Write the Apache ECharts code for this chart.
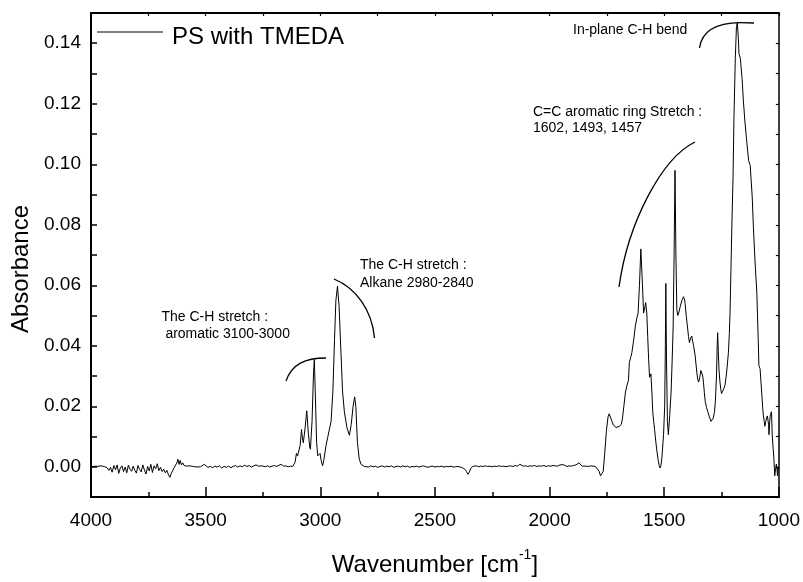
<!DOCTYPE html>
<html>
<head>
<meta charset="utf-8">
<script src="https://cdn.jsdelivr.net/npm/echarts@6/dist/echarts.min.js"></script>
<style>
html,body{margin:0;padding:0;background:#fff;}
#chart{width:803px;height:582px;}
</style>
</head>
<body>
<div id="chart"></div>
<script>
// ---- data: [wavenumber (cm-1), absorbance] ----
const seriesName = 'PS with TMEDA';

const baselineHigh = [
[4000,0.0000],[3990,0.0001],[3980,0.0002],[3970,0.0001],[3960,0.0003],[3950,0.0002],[3940,0.0000],
[3930,-0.0003],[3922,-0.0012],[3915,-0.0002],[3908,-0.0018],[3900,0.0004],[3893,-0.0010],[3886,0.0006],
[3879,-0.0022],[3872,-0.0004],[3865,0.0003],[3858,-0.0016],[3851,-0.0001],[3844,-0.0020],[3837,0.0005],
[3830,-0.0008],[3823,-0.0015],[3816,0.0002],[3809,-0.0012],[3802,-0.0021],[3795,0.0004],[3788,-0.0009],
[3781,-0.0017],[3774,0.0006],[3767,-0.0011],[3760,-0.0024],[3753,0.0001],[3746,-0.0014],[3739,0.0008],
[3732,-0.0019],[3725,0.0003],[3718,-0.0007],[3711,0.0010],[3704,-0.0013],[3697,-0.0002],[3690,-0.0016],
[3683,-0.0008],[3676,-0.0020],[3669,-0.0012],[3662,-0.0027],[3656,-0.0035],[3650,-0.0022],[3644,-0.0016],
[3638,-0.0004],[3632,0.0000],[3626,0.0012],[3621,0.0025],[3616,0.0008],[3611,0.0021],[3606,0.0006],
[3600,0.0013],[3594,0.0004],[3588,0.0010],[3582,0.0002],[3576,0.0008],[3570,0.0003],[3562,0.0007],
[3554,0.0001],[3546,0.0005],[3538,-0.0001],[3530,0.0003],[3522,0.0000],[3514,0.0004],[3506,0.0008],
[3498,0.0002],[3490,-0.0002],[3480,0.0001],[3470,-0.0003],[3460,0.0002],[3450,-0.0001],[3440,0.0003],
[3430,-0.0004],[3420,0.0001],[3410,-0.0002],[3400,0.0002],[3390,-0.0003],[3380,0.0001],[3370,0.0004],
[3360,-0.0001],[3350,0.0003],[3340,0.0000],[3330,0.0005],[3320,0.0001],[3310,0.0004],[3300,-0.0001],
[3290,0.0003],[3280,0.0006],[3270,0.0002],[3262,0.0008],[3255,0.0003],[3248,0.0005],[3240,0.0000],
[3230,0.0003],[3220,-0.0001],[3210,0.0002],[3200,0.0004],[3190,0.0001],[3180,0.0005],[3170,0.0008],
[3160,0.0002],[3150,0.0003],[3140,0.0000],[3130,0.0002],[3120,0.0001],[3113,0.0003]
];

const chStretch = [
[3110,0.0015],[3104,0.0044],[3099,0.0036],[3095,0.0030],[3088,0.0070],[3082,0.0123],[3078,0.0095],
[3074,0.0079],[3066,0.0130],[3059,0.0185],[3052,0.0110],[3046,0.0065],[3043,0.0058],[3036,0.0150],
[3030,0.0300],[3026,0.0354],[3022,0.0250],[3016,0.0080],[3011,0.0036],[3005,0.0042],[3001,0.0044],
[2996,0.0020],[2990,0.0003],[2984,0.0025],[2975,0.0070],[2968,0.0096],[2960,0.0125],[2953,0.0150],
[2945,0.0250],[2938,0.0420],[2932,0.0550],[2925,0.0597],[2918,0.0530],[2910,0.0380],[2903,0.0250],
[2895,0.0182],[2884,0.0130],[2873,0.0104],[2865,0.0140],[2857,0.0200],[2850,0.0231],[2845,0.0200],
[2838,0.0080],[2830,0.0025],[2822,0.0008],[2816,0.0003]
];

const baselineMid = [
[2808,0.0001],[2800,0.0002],[2790,-0.0001],[2780,0.0003],[2770,0.0000],[2760,0.0002],[2750,-0.0002],
[2740,0.0001],[2730,0.0003],[2720,-0.0001],[2710,0.0002],[2700,0.0000],[2690,0.0003],[2680,-0.0002],
[2670,0.0001],[2660,0.0002],[2650,-0.0001],[2640,0.0003],[2630,0.0000],[2620,0.0002],[2610,-0.0002],
[2600,0.0001],[2590,0.0000],[2580,0.0002],[2570,-0.0001],[2560,0.0001],[2550,0.0003],[2540,0.0000],
[2530,-0.0002],[2520,0.0001],[2510,0.0002],[2500,-0.0001],[2490,0.0001],[2480,0.0000],[2470,0.0002],
[2460,-0.0001],[2450,0.0001],[2440,0.0000],[2430,0.0002],[2420,-0.0001],[2410,0.0000],[2400,0.0001],
[2390,-0.0001],[2380,-0.0003],[2370,-0.0008],[2362,-0.0016],[2356,-0.0025],[2350,-0.0018],[2344,-0.0006],
[2336,0.0001],[2328,-0.0002],[2320,0.0003],[2310,0.0000],[2300,0.0002],[2290,0.0001],[2280,0.0003],
[2270,0.0001],[2260,0.0002],[2250,0.0000],[2240,0.0002],[2230,0.0001],[2220,0.0003],[2210,0.0001],
[2200,0.0002],[2190,0.0000],[2180,0.0002],[2170,0.0003],[2160,0.0001],[2150,0.0004],[2140,0.0002],
[2130,0.0008],[2122,0.0004],[2114,0.0002],[2105,0.0003],[2095,0.0001],[2085,0.0003],[2075,0.0002],
[2065,0.0004],[2055,0.0001],[2045,0.0003],[2035,0.0002],[2025,0.0004],[2015,0.0001],[2005,0.0003],
[1995,0.0002],[1985,0.0004],[1975,0.0003],[1965,0.0002],[1955,0.0006],[1947,0.0011],[1940,0.0007],
[1932,0.0002],[1925,0.0001],[1915,0.0003],[1905,0.0002],[1895,0.0004],[1885,0.0006],[1878,0.0010],
[1872,0.0013],[1866,0.0008],[1858,0.0002],[1850,0.0001],[1840,0.0002],[1830,0.0001],[1820,0.0003],
[1810,0.0002],[1800,0.0001],[1792,-0.0003],[1784,-0.0015],[1778,-0.0030],[1774,-0.0035],[1770,-0.0032],
[1766,-0.0015]
];

const fingerprint = [
[1760,0.0040],[1752,0.0120],[1745,0.0165],[1740,0.0175],[1735,0.0172],[1728,0.0150],[1722,0.0138],
[1716,0.0134],[1710,0.0130],[1706,0.0136],[1702,0.0128],[1697,0.0133],[1692,0.0134],[1687,0.0140],
[1682,0.0161],[1676,0.0200],[1669,0.0247],[1662,0.0270],[1656,0.0285],[1654,0.0291],[1652,0.0345],
[1646,0.0362],[1641,0.0378],[1633,0.0420],[1626,0.0465],[1620,0.0490],[1614,0.0508],[1608,0.0600],
[1602,0.0720],[1596,0.0620],[1590,0.0508],[1585,0.0525],[1581,0.0543],[1576,0.0508],[1572,0.0430],
[1568,0.0356],[1564,0.0296],[1561,0.0300],[1558,0.0307],[1554,0.0250],[1550,0.0182],[1546,0.0150],
[1542,0.0123],[1537,0.0085],[1532,0.0052],[1526,0.0020],[1522,0.0004],[1518,-0.0004],[1514,0.0005],
[1510,0.0031],[1503,0.0106],[1498,0.0200],[1495,0.0400],[1493,0.0606],[1490,0.0350],[1486,0.0150],
[1482,0.0106],[1476,0.0170],[1470,0.0247],[1465,0.0360],[1461,0.0465],[1457,0.0700],[1453,0.0980],
[1449,0.0700],[1445,0.0520],[1441,0.0500],[1437,0.0508],[1430,0.0530],[1423,0.0550],[1416,0.0562],
[1412,0.0555],[1409,0.0540],[1404,0.0500],[1399,0.0465],[1394,0.0430],[1390,0.0410],[1385,0.0425],
[1380,0.0432],[1376,0.0415],[1372,0.0400],[1365,0.0367],[1358,0.0313],[1354,0.0290],[1350,0.0280],
[1345,0.0295],[1340,0.0318],[1336,0.0324],[1332,0.0300],[1329,0.0280],[1325,0.0245],[1321,0.0215],
[1315,0.0195],[1310,0.0182],[1303,0.0165],[1296,0.0150],[1290,0.0155],[1286,0.0161],[1281,0.0180],
[1277,0.0215],[1272,0.0300],[1269,0.0400],[1267,0.0443],[1264,0.0380],[1261,0.0320],[1257,0.0280],
[1253,0.0255],[1250,0.0242],[1245,0.0250],[1240,0.0258],[1235,0.0269],[1228,0.0310],[1220,0.0378],
[1216,0.0440],[1213,0.0508],[1209,0.0650],[1205,0.0800],[1200,0.0950],[1196,0.1150],[1190,0.1350],
[1185,0.1455],[1181,0.1468],[1177,0.1420],[1174,0.1366],[1168,0.1350],[1160,0.1280],[1155,0.1213],
[1148,0.1140],[1141,0.1083],[1132,0.1012],[1125,0.0996],[1116,0.0888],[1111,0.0790],[1104,0.0680],
[1096,0.0573],[1090,0.0420],[1087,0.0334],[1082,0.0324],[1078,0.0280],[1075,0.0247],[1071,0.0200],
[1068,0.0172],[1064,0.0150],[1061,0.0134],[1057,0.0150],[1054,0.0161],[1050,0.0168],[1047,0.0172],
[1045,0.0140],[1043,0.0106],[1040,0.0150],[1037,0.0172],[1034,0.0178],[1032,0.0182],[1029,0.0106],
[1025,0.0060],[1022,0.0030],[1018,-0.0030],[1014,-0.0005],[1011,0.0009],[1008,-0.0010],[1006,-0.0030],
[1004,0.0000],[1002,-0.0010]
];

const xTickLabels = ['4000','3500','3000','2500','2000','1500','1000'];
const yTickLabels = ['0.00','0.02','0.04','0.06','0.08','0.10','0.12','0.14'];

const annotations = [
  {lines:['In-plane C-H bend'], x:573, y:30.5, gap:16},
  {lines:['C=C aromatic ring Stretch :','1602, 1493, 1457'], x:533, y:112.5, gap:16},
  {lines:['The C-H stretch :','Alkane 2980-2840'], x:360, y:265.5, gap:18},
  {lines:['The C-H stretch :',' aromatic 3100-3000'], x:161.5, y:317.5, gap:16.5}
];

// ---- chart ----
const FONT = '"Liberation Sans", Arial, Helvetica, sans-serif';
const spectrum = baselineHigh.concat(chStretch, baselineMid, fingerprint);

const graphics = [];
annotations.forEach(a => {
  a.lines.forEach((t, i) => {
    graphics.push({type:'text', x:a.x, y:a.y + i*a.gap, silent:true,
      style:{text:t, font:'14px ' + FONT, fill:'#000', align:'left', verticalAlign:'middle'}});
  });
});
const curveStyle = {stroke:'#000', lineWidth:1.3, fill:null};
graphics.push(
  {type:'bezierCurve', silent:true, shape:{x1:286,y1:381,cpx1:292,cpy1:364,cpx2:305,cpy2:358,x2:326,y2:358}, style:curveStyle},
  {type:'bezierCurve', silent:true, shape:{x1:334,y1:279,cpx1:356,cpy1:288,cpx2:372,cpy2:310,x2:374.5,y2:338}, style:curveStyle},
  {type:'bezierCurve', silent:true, shape:{x1:619,y1:287,cpx1:628,cpy1:222,cpx2:662,cpy2:158,x2:695,y2:142}, style:curveStyle},
  {type:'bezierCurve', silent:true, shape:{x1:699.5,y1:48,cpx1:702,cpy1:30,cpx2:718,cpy2:23,x2:740,y2:22.7}, style:curveStyle},
  {type:'line', silent:true, shape:{x1:740,y1:22.7,x2:754,y2:23}, style:curveStyle}
);

const axisLine = {show:true, onZero:false, lineStyle:{color:'#000', width:2}};
const chart = echarts.init(document.getElementById('chart'), null, {renderer:'canvas'});
chart.setOption({
  animation:false,
  backgroundColor:'#fff',
  textStyle:{fontFamily:FONT},
  grid:{left:91, right:22, top:13, bottom:79, containLabel:false},
  legend:{
    data:[seriesName], left:97, top:25, itemWidth:66, itemHeight:1.2, icon:'rect', padding:0,
    formatter:name => '{t|' + name + '}',
    textStyle:{fontSize:24, color:'#000', fontFamily:FONT,
      rich:{t:{fontSize:24, color:'#000', fontFamily:FONT, padding:[10,0,0,4]}}}
  },
  xAxis:[{
    type:'value', min:1000, max:4000, interval:500, inverse:true, position:'bottom',
    name:'{n|Wavenumber [cm}{s|-1}{n|]}', nameLocation:'middle', nameGap:51,
    nameTextStyle:{rich:{
      n:{fontSize:24, fontFamily:FONT, color:'#000', lineHeight:34},
      s:{fontSize:14, fontFamily:FONT, color:'#000', verticalAlign:'top', lineHeight:14}
    }},
    axisLine:axisLine,
    axisTick:{show:true, inside:true, length:10, lineStyle:{color:'#000', width:1.5}},
    minorTick:{show:true, splitNumber:2, length:5, lineStyle:{color:'#000', width:1.5}},
    splitLine:{show:false},
    axisLabel:{fontSize:19, color:'#000', fontFamily:FONT, margin:14,
      formatter:v => { const s = String(Math.round(v)); return xTickLabels.includes(s) ? s : ''; }}
  },{
    type:'value', min:1000, max:4000, interval:250, inverse:true, position:'top',
    axisLine:axisLine,
    axisTick:{show:true, inside:true, length:3, lineStyle:{color:'#000', width:1.2}},
    splitLine:{show:false}, axisLabel:{show:false}
  }],
  yAxis:[{
    type:'value', min:-0.01, max:0.15, interval:0.01, position:'left',
    name:'Absorbance', nameLocation:'middle', nameGap:50, nameRotate:90,
    nameTextStyle:{fontSize:24, color:'#000', fontFamily:FONT, padding:[0,28,0,0]},
    axisLine:axisLine,
    axisTick:{show:true, inside:true, length:6, lineStyle:{color:'#000', width:1.5}},
    splitLine:{show:false},
    axisLabel:{fontSize:19, color:'#000', fontFamily:FONT, margin:10, padding:[4,0,0,0],
      formatter:v => { const s = (Math.round(v*100)/100).toFixed(2); return yTickLabels.includes(s) ? s : ''; }}
  },{
    type:'value', min:-0.01, max:0.15, interval:0.01, position:'right',
    axisLine:{show:true, onZero:false, lineStyle:{color:'#000', width:1.5}},
    axisTick:{show:true, inside:true, length:3, lineStyle:{color:'#000', width:1.2}},
    splitLine:{show:false}, axisLabel:{show:false}
  }],
  series:[{
    name:seriesName, type:'line', xAxisIndex:0, yAxisIndex:0,
    data:spectrum, showSymbol:false, symbol:'none', smooth:false,
    lineStyle:{color:'#000', width:1}, itemStyle:{color:'#000'}
  }],
  graphic:graphics
});
</script>
</body>
</html>
